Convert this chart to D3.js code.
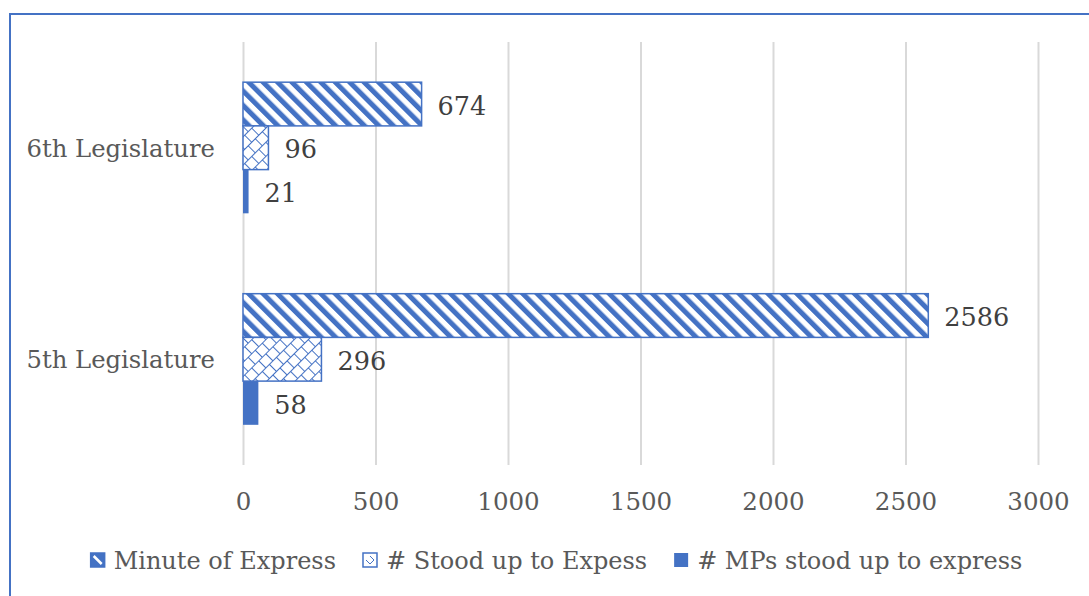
<!DOCTYPE html>
<html>
<head>
<meta charset="utf-8">
<script src="https://cdn.jsdelivr.net/npm/d3@7"></script>
<style>
  body { margin: 0; background: #fff; }
  svg { display: block; }
  text { font-family: "DejaVu Serif", serif; }
</style>
</head>
<body>
<svg id="chart" width="1089" height="596"></svg>
<script>
// Chart data
const categories = ["6th Legislature", "5th Legislature"];
const seriesNames = ["Minute of Express", "# Stood up to Expess", "# MPs stood up to express"];
const minuteOfExpress = [674, 2586];
const stoodUpToExpress = [96, 296];
const mpsStoodUp = [21, 58];
const xTicks = [0, 500, 1000, 1500, 2000, 2500, 3000];

const seriesValues = [minuteOfExpress, stoodUpToExpress, mpsStoodUp];
const blue = "#4472C4";

const svg = d3.select("#chart");

// Outer frame of the chart area
svg.append("rect")
  .attr("x", 10).attr("y", 14)
  .attr("width", 1200).attr("height", 700)
  .attr("fill", "none").attr("stroke", blue).attr("stroke-width", 2);

// Fill patterns
const defs = svg.append("defs");

// wide downward diagonal stripes
const pStripe = defs.append("pattern")
  .attr("id", "stripes").attr("patternUnits", "userSpaceOnUse")
  .attr("width", 10.2).attr("height", 10.2)
  .attr("patternTransform", "rotate(-45)");
pStripe.append("rect").attr("width", 10.2).attr("height", 10.2).attr("fill", "#fff");
pStripe.append("rect").attr("x", 0).attr("width", 5).attr("height", 10.2).attr("fill", blue);

// diagonal brick lattice
const pBrick = defs.append("pattern")
  .attr("id", "brick").attr("patternUnits", "userSpaceOnUse")
  .attr("width", 10).attr("height", 20)
  .attr("patternTransform", "rotate(-45)");
pBrick.append("rect").attr("width", 10).attr("height", 20).attr("fill", "#fff");
pBrick.append("path")
  .attr("d", "M0,0.5H10M0,10.5H10M0.5,0V10M5.5,10V20")
  .attr("stroke", blue).attr("stroke-width", 1).attr("fill", "none");

const fills = ["url(#stripes)", "url(#brick)", blue];

// Scales
const x = d3.scaleLinear().domain([0, 3000]).range([243, 1038]);
const yTop = 42, yBottom = 465;
const y0 = d3.scaleBand().domain(categories).range([yTop, yBottom])
  .paddingInner(0.38).paddingOuter(0.19);
const y1 = d3.scaleBand().domain(d3.range(seriesNames.length)).range([0, y0.bandwidth()]);

// Gridlines + tick labels
const axis = d3.axisBottom(x).tickValues(xTicks).tickFormat(d3.format("d"))
  .tickSize(-(yBottom - yTop)).tickPadding(28);
const gAxis = svg.append("g").attr("transform", `translate(0,${yBottom})`).call(axis);
gAxis.select(".domain").remove();
gAxis.selectAll(".tick line").attr("stroke", "#D9D9D9").attr("stroke-width", 2);
gAxis.selectAll(".tick text").attr("fill", "#595959").attr("font-size", 24.5)
  .attr("font-family", "DejaVu Serif");

// Category labels
svg.append("g").selectAll("text").data(categories).join("text")
  .attr("x", 215)
  .attr("y", d => y0(d) + y0.bandwidth() / 2)
  .attr("dy", "0.38em")
  .attr("text-anchor", "end")
  .attr("fill", "#595959").attr("font-size", 24.3)
  .text(d => d);

// Bars with value labels
const groups = svg.append("g").selectAll("g").data(categories).join("g")
  .attr("transform", d => `translate(0,${y0(d)})`);

groups.each(function (cat, ci) {
  const g = d3.select(this);
  seriesValues.forEach((vals, si) => {
    const v = vals[ci];
    g.append("rect")
      .attr("x", x(0))
      .attr("y", y1(si))
      .attr("width", x(v) - x(0))
      .attr("height", y1.bandwidth())
      .attr("fill", fills[si])
      .attr("stroke", si < 2 ? blue : "none")
      .attr("stroke-width", 1.5);
    g.append("text")
      .attr("x", x(v) + 16)
      .attr("y", y1(si) + y1.bandwidth() / 2)
      .attr("dy", "0.42em")
      .attr("fill", "#404040").attr("font-size", 25.5)
      .text(v);
  });
});

// Legend swatch drawings
function drawSwatch(g, i) {
  if (i === 0) {
    g.append("rect").attr("x", 1).attr("y", -8).attr("width", 14).attr("height", 14)
      .attr("fill", blue);
    g.append("path").attr("d", "M4,-5L12,3").attr("stroke", "#fff").attr("stroke-width", 2.5);
    g.append("rect").attr("x", 1).attr("y", -8).attr("width", 14).attr("height", 14)
      .attr("fill", "none").attr("stroke", blue).attr("stroke-width", 1.5);
  } else if (i === 1) {
    g.append("rect").attr("x", 1).attr("y", -8).attr("width", 14).attr("height", 14)
      .attr("fill", "#fff").attr("stroke", blue).attr("stroke-width", 1.5);
    g.append("path").attr("d", "M4,-1L8,3M8,3L12,-1M8,-5L12,-1")
      .attr("stroke", blue).attr("stroke-width", 1).attr("fill", "none");
  } else {
    g.append("rect").attr("x", 1).attr("y", -8).attr("width", 14).attr("height", 14)
      .attr("fill", blue);
  }
}

// Legend
const legend = svg.append("g");
let lx = 0;
seriesNames.forEach((name, i) => {
  const item = legend.append("g").attr("transform", `translate(${lx},0)`);
  drawSwatch(item, i);
  const t = item.append("text")
    .attr("x", 24).attr("y", 0).attr("dy", "0.35em")
    .attr("fill", "#595959").attr("font-size", 24)
    .text(name);
  const w = 24 + t.node().getComputedTextLength();
  lx += w + 26;
});
const legendWidth = lx - 26;
legend.attr("transform", `translate(${556 - legendWidth / 2},561)`);
</script>
</body>
</html>
